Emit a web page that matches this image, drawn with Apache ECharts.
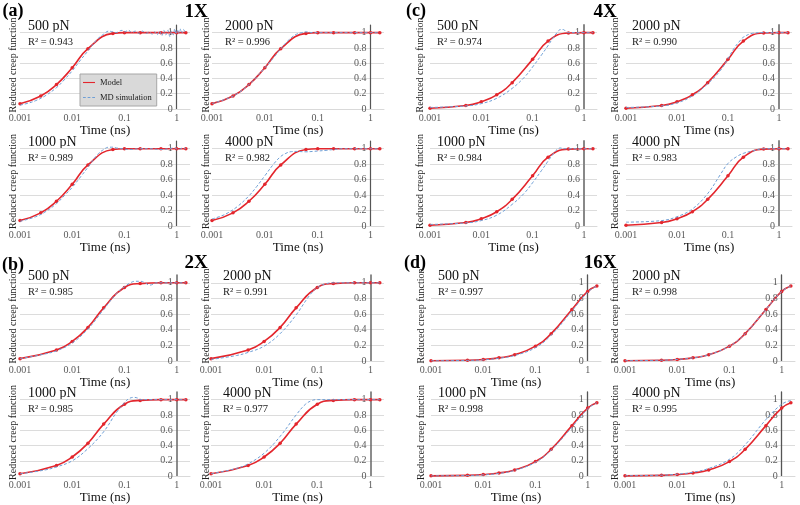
<!DOCTYPE html>
<html><head><meta charset="utf-8">
<script src="https://cdn.jsdelivr.net/npm/echarts@6/dist/echarts.min.js"></script>
<style>html,body{margin:0;padding:0;background:#fff}#c{width:800px;height:505px}</style>
</head><body><div id="c"></div>
<script>
// ---------- DATA ----------
const timesA = [0.001,0.0025,0.005,0.01,0.02,0.06,0.1,0.2,0.5,1,1.5];
const modelA = [0.07,0.17,0.32,0.54,0.79,0.99,1,1,1,1,1];
const timesBCD = [0.001,0.005,0.01,0.02,0.04,0.1,0.2,0.5,1,1.5];
const modelB = [0.03,0.14,0.25,0.43,0.68,0.94,0.99,1,1,1];
const modelC = [0.01,0.045,0.095,0.185,0.345,0.65,0.89,0.995,1,1];
const modelD = [0.003,0.01,0.02,0.04,0.08,0.19,0.35,0.66,0.89,0.96];

const forces = ['500 pN','2000 pN','1000 pN','4000 pN'];
const r2A = ['0.943','0.996','0.989','0.982'];
const r2B = ['0.985','0.991','0.985','0.977'];
const r2C = ['0.974','0.990','0.984','0.983'];
const r2D = ['0.997','0.998','0.998','0.995'];
const panelLabels = ['(a)','(b)','(c)','(d)'];
const panelTitles = ['1X','2X','4X','16X'];
const xTickLabels = ['0.001','0.01','0.1','1'];

const mdA500 = [[0.001,0.05],[0.0015,0.08],[0.002,0.11],[0.003,0.17],[0.005,0.28],[0.007,0.38],[0.01,0.5],[0.014,0.63],[0.02,0.76],[0.03,0.91],[0.04,0.98],[0.05,1.02],[0.06,1.01],[0.07,1.0],[0.08,1.02],[0.09,1.03],[0.1,1.01],[0.12,1.03],[0.14,1.0],[0.16,1.02],[0.19,0.99],[0.22,1.02],[0.26,0.99],[0.3,1.01],[0.34,0.98],[0.38,1.01],[0.42,0.97],[0.47,1.02],[0.52,0.96],[0.57,1.03],[0.62,0.97],[0.68,1.03],[0.74,0.95],[0.8,1.02],[0.86,0.97],[0.92,1.05],[0.98,0.98],[1.05,1.04],[1.12,0.99],[1.2,1.05],[1.28,1.0],[1.36,1.04],[1.45,1.01],[1.5,1.03]];
const mdA2000 = [[0.001,0.07],[0.002,0.14],[0.003,0.2],[0.005,0.32],[0.007,0.42],[0.01,0.54],[0.015,0.68],[0.02,0.79],[0.03,0.92],[0.04,0.98],[0.05,1.0],[0.06,1.01],[0.08,1.0],[0.1,1.0],[0.2,1.0],[0.5,1.0],[1,1.0],[1.5,1.0]];
const mdA1000 = [[0.001,0.06],[0.002,0.12],[0.003,0.18],[0.005,0.29],[0.007,0.39],[0.01,0.5],[0.015,0.65],[0.02,0.76],[0.03,0.92],[0.04,0.99],[0.05,1.02],[0.06,1.02],[0.07,1.01],[0.09,1.0],[0.12,0.99],[0.2,1.0],[0.3,1.0],[0.5,0.99],[0.7,1.0],[0.9,1.01],[1.1,0.99],[1.3,1.01],[1.5,1.0]];
const mdA4000 = [[0.001,0.09],[0.0015,0.13],[0.002,0.17],[0.003,0.25],[0.005,0.39],[0.007,0.51],[0.01,0.65],[0.015,0.81],[0.02,0.9],[0.025,0.94],[0.03,0.96],[0.04,0.965],[0.06,0.96],[0.08,0.965],[0.1,0.97],[0.15,0.98],[0.2,0.99],[0.3,1.0],[0.5,1.0],[1,1.0],[1.5,1.0]];
const mdB500 = [[0.001,0.03],[0.003,0.09],[0.005,0.13],[0.01,0.23],[0.02,0.41],[0.04,0.66],[0.07,0.86],[0.1,0.95],[0.13,1.0],[0.16,1.02],[0.2,1.02],[0.25,1.0],[0.3,0.97],[0.35,0.98],[0.4,1.0],[0.5,1.0],[1,1.0],[1.5,1.0]];
const mdB2000 = [[0.001,0.02],[0.003,0.07],[0.005,0.11],[0.01,0.19],[0.02,0.35],[0.04,0.59],[0.07,0.83],[0.1,0.94],[0.15,0.99],[0.2,1.0],[0.5,1.0],[1,1.0],[1.5,1.0]];
const mdB1000 = [[0.001,0.03],[0.003,0.08],[0.005,0.12],[0.01,0.2],[0.02,0.36],[0.04,0.58],[0.07,0.83],[0.1,0.96],[0.12,1.01],[0.15,1.03],[0.18,1.02],[0.2,1.0],[0.3,1.0],[0.5,1.0],[1,1.0],[1.5,1.0]];
const mdB4000 = [[0.001,0.03],[0.003,0.1],[0.005,0.16],[0.01,0.3],[0.02,0.52],[0.04,0.8],[0.06,0.94],[0.08,0.99],[0.1,1.0],[0.2,1.0],[0.5,1.0],[1,1.0],[1.5,1.0]];
const mdC500 = [[0.001,0.02],[0.005,0.04],[0.01,0.07],[0.02,0.14],[0.04,0.27],[0.07,0.42],[0.1,0.55],[0.15,0.71],[0.2,0.83],[0.25,0.93],[0.3,1.0],[0.35,1.04],[0.4,1.04],[0.45,1.01],[0.5,1.0],[1,1.0],[1.5,1.0]];
const mdC2000 = [[0.001,0.02],[0.005,0.04],[0.01,0.08],[0.02,0.17],[0.04,0.33],[0.07,0.5],[0.1,0.66],[0.13,0.79],[0.17,0.89],[0.2,0.94],[0.3,0.99],[0.5,1.0],[1,1.0],[1.5,1.0]];
const mdC1000 = [[0.001,0.02],[0.005,0.04],[0.01,0.07],[0.02,0.14],[0.04,0.28],[0.07,0.43],[0.1,0.56],[0.15,0.72],[0.2,0.84],[0.25,0.93],[0.3,0.99],[0.35,1.01],[0.4,1.0],[0.5,1.0],[1,1.0],[1.5,1.0]];
const mdC4000 = [[0.001,0.05],[0.005,0.07],[0.01,0.12],[0.02,0.22],[0.04,0.42],[0.07,0.66],[0.1,0.81],[0.15,0.9],[0.2,0.94],[0.3,0.97],[0.5,1.0],[1,1.0],[1.5,1.0]];
const mdD500 = [[0.001,0.002],[0.005,0.008],[0.01,0.015],[0.02,0.035],[0.04,0.07],[0.1,0.17],[0.2,0.33],[0.5,0.64],[1,0.88],[1.5,0.96]];
const mdD2000 = [[0.001,0.003],[0.005,0.01],[0.01,0.02],[0.02,0.04],[0.04,0.08],[0.1,0.19],[0.2,0.35],[0.5,0.66],[1,0.89],[1.5,0.96]];
const mdD1000 = [[0.001,0.002],[0.005,0.008],[0.01,0.016],[0.02,0.035],[0.04,0.075],[0.1,0.18],[0.2,0.34],[0.5,0.64],[1,0.88],[1.5,0.96]];
const mdD4000 = [[0.001,0.004],[0.005,0.012],[0.01,0.025],[0.02,0.05],[0.04,0.1],[0.1,0.22],[0.2,0.41],[0.5,0.74],[1,0.94],[1.5,0.99]];

// ---------- LAYOUT ----------
const FONT = '"Liberation Serif","Times New Roman",serif';
const panels = [
  {times: timesA, model: modelA, r2: r2A, md: [mdA500, mdA2000, mdA1000, mdA4000],
   colLeft: [20, 212], colW: [170, 172], rowTop: [25, 141], rowH: [84, 85], ytx: [13, 206], lblOff: [8, 13],
   label: [13, 11], title: [196, 12], axisColor: '#555', axisW: 1.2},
  {times: timesBCD, model: modelB, r2: r2B, md: [mdB500, mdB2000, mdB1000, mdB4000],
   colLeft: [20, 211], colW: [170, 173], rowTop: [275, 392], rowH: [86, 85], ytx: [13, 206], lblOff: [8, 12],
   label: [13, 265], title: [196, 263], axisColor: '#666', axisW: 1.5},
  {times: timesBCD, model: modelC, r2: r2C, md: [mdC500, mdC2000, mdC1000, mdC4000],
   colLeft: [430, 626], colW: [167, 166], rowTop: [25, 141], rowH: [84, 85], ytx: [420, 615], lblOff: [7, 6],
   label: [416, 11], title: [605, 12], axisColor: '#888', axisW: 2},
  {times: timesBCD, model: modelD, r2: r2D, md: [mdD500, mdD2000, mdD1000, mdD4000],
   colLeft: [431, 625], colW: [170, 170], rowTop: [275, 392], rowH: [86, 85], ytx: [421, 615], lblOff: [7, 7],
   label: [415, 263], title: [600, 263], axisColor: '#555', axisW: 1.3}
];

const grids = [], xAxes = [], yAxes = [], series = [], graphics = [];
let idx = 0;
panels.forEach((p, pi) => {
  graphics.push({type:'text', x: p.label[0], y: p.label[1], style:{text: panelLabels[pi], font:'bold 18px ' + FONT, fill:'#000', align:'center', verticalAlign:'middle'}});
  graphics.push({type:'text', x: p.title[0], y: p.title[1], style:{text: panelTitles[pi], font:'bold 19px ' + FONT, fill:'#000', align:'center', verticalAlign:'middle'}});
  for (let s = 0; s < 4; s++) {
    const r = Math.floor(s / 2), c = s % 2;
    const left = p.colLeft[c], top = p.rowTop[r], w = p.colW[c], h = p.rowH[r];
    grids.push({left: left, top: top, width: w, height: h});
    xAxes.push({type:'log', gridIndex: idx, min: 0.001, max: 1.8, logBase: 10,
      name: 'Time (ns)', nameLocation: 'middle', nameGap: 14,
      nameTextStyle: {fontFamily: FONT, fontSize: 13, color: '#111'},
      axisLine: {onZero: false, lineStyle: {color: '#d9d9d9'}},
      axisTick: {show: false}, splitLine: {show: false},
      axisLabel: {fontFamily: FONT, fontSize: 10, color: '#595959', margin: 4, showMaxLabel: false,
        formatter: v => { const lg = Math.log10(v); const k = Math.round(lg) + 3; return (Math.abs(lg - Math.round(lg)) < 1e-6 && xTickLabels[k] !== undefined) ? xTickLabels[k] : ''; }}});
    yAxes.push({type:'value', gridIndex: idx, min: 0, max: 1.1, interval: 0.2, position: 'left', offset: 0,
      axisLine: {show: true, onZero: false, lineStyle: {color: p.axisColor, width: p.axisW}},
      axisTick: {show: false},
      splitLine: {show: true, showMaxLine: false, lineStyle: {color: '#dcdcdc', width: 1}},
      axisLabel: {fontFamily: FONT, fontSize: 10, color: '#595959', margin: 4, showMaxLabel: false}});
    series.push({name: 'Model', type: 'line', xAxisIndex: idx, yAxisIndex: idx, smooth: 0.5,
      data: p.times.map((t, i) => [t, p.model[i]]),
      symbol: 'circle', symbolSize: 3.5, itemStyle: {color: '#e3262d'},
      lineStyle: {color: '#e3262d', width: 1.6}, z: 3});
    series.push({name: 'MD simulation', type: 'line', xAxisIndex: idx, yAxisIndex: idx, smooth: 0.4,
      data: p.md[s], symbol: 'none', showSymbol: false,
      itemStyle: {color: '#6f9fd6'},
      lineStyle: {color: '#6f9fd6', width: 1, type: [3, 2]}, z: 4});
    graphics.push({type:'text', x: left + p.lblOff[c], y: top + 1, style:{text: forces[s], font: '14px ' + FONT, fill:'#111', verticalAlign:'middle'}});
    graphics.push({type:'text', x: left + p.lblOff[c], y: top + 17, style:{text: 'R² = ' + p.r2[s], font: '10.5px ' + FONT, fill:'#222', verticalAlign:'middle'}});
    graphics.push({type:'text', x: p.ytx[c], y: top + h / 2 - 2, rotation: Math.PI / 2,
      style:{text: 'Reduced creep function', font: '10px ' + FONT, fill:'#222', align:'center', verticalAlign:'middle'}});
    idx++;
  }
});

const chart = echarts.init(document.getElementById('c'), null, {renderer: 'canvas'});
const option = {
  animation: false,
  backgroundColor: '#fff',
  grid: grids, xAxis: xAxes, yAxis: yAxes, series: series,
  legend: {data: [
      {name: 'Model', icon: 'path://M0,4L14,4L14,5.3L0,5.3Z'},
      {name: 'MD simulation', icon: 'path://M0,4h3v1h-3zM5,4h3v1h-3zM10,4h3v1h-3z'}],
    orient: 'vertical', left: 80, top: 74,
    backgroundColor: '#d9d9d9', borderColor: '#a6a6a6', borderWidth: 1, padding: [4, 5, 4, 3],
    itemGap: 6, itemWidth: 12, itemHeight: 8,
    textStyle: {fontFamily: FONT, fontSize: 8.5, color: '#222'}},
  graphic: graphics
};
chart.setOption(option);
// place each y axis where it crosses the x axis at 1 (as in the source figure)
const yUpd = yAxes.map((ya, i) => {
  const px = chart.convertToPixel({xAxisIndex: i}, 1);
  return {offset: -(px - grids[i].left)};
});
chart.setOption({yAxis: yUpd});
</script></body></html>
